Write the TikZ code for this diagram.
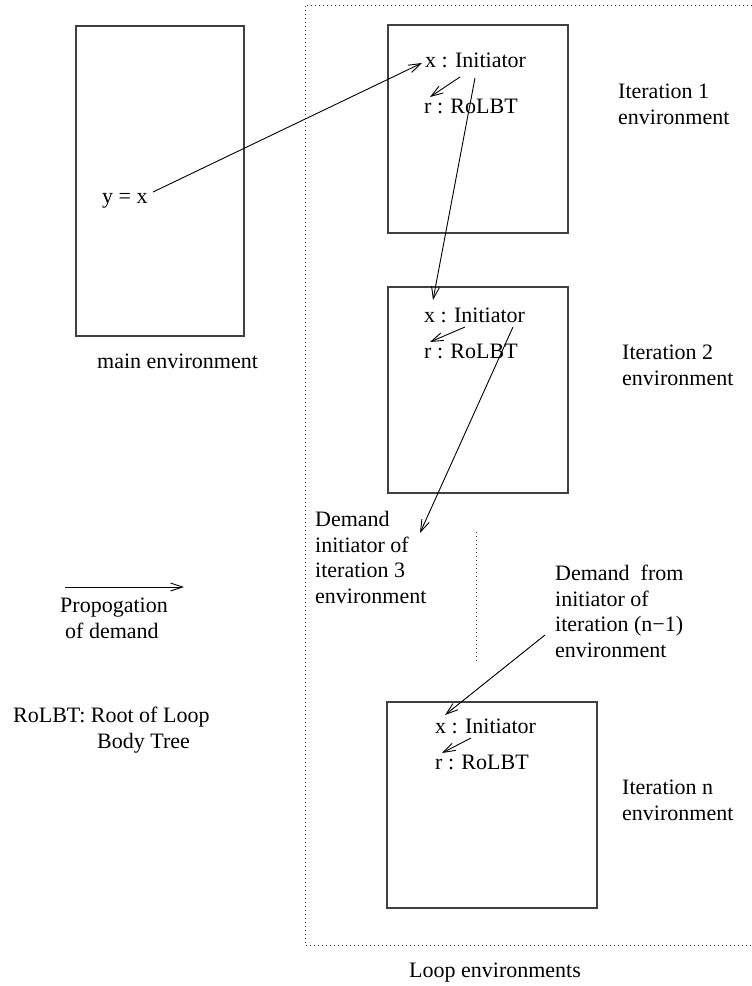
\documentclass[tikz,border=0pt]{standalone}
\usepackage{fontspec}
\setmainfont{Liberation Serif}
\usetikzlibrary{arrows.meta}
\begin{document}
\begin{tikzpicture}[x=1pt,y=-1pt,
  txt/.style={anchor=base west,inner sep=0pt,align=left,
    font=\fontsize{22}{25.5}\selectfont},
  envbox/.style={draw=black!75,line width=1.2pt},
  frame/.style={draw=black!80,line width=1pt,dash pattern=on 1pt off 3pt},
  demand/.style={draw=black,line width=0.9pt,
    -{Straight Barb[length=12pt,width=8pt,line width=0.9pt]}}]
\useasboundingbox (0,0) rectangle (752,986);

% loop region and the gap between iterations
\draw[frame] (752,5) -- (305,5) -- (305,945) -- (752,945);
\draw[frame] (476,532) -- (476,664);

% environments
\draw[envbox] (76,26) rectangle (244,336);
\draw[envbox] (388,25) rectangle (568,233);
\draw[envbox] (388,287) rectangle (568,493);
\draw[envbox] (387,702) rectangle (597,908);

% main environment (multi-line nodes are placed by their last baseline)
\node[txt] (yx) at (102,203) {y = x};
\node[txt] (mainlbl) at (97,368) {main environment};

% iteration 1
\node[txt] (init1) at (425,67) {x : Initiator};
\node[txt] (root1) at (424,113) {r : RoLBT};
\node[txt] (it1) at (618,124) {Iteration 1\\environment};

% iteration 2
\node[txt] (init2) at (424,322) {x : Initiator};
\node[txt] (root2) at (424,358) {r : RoLBT};
\node[txt] (it2) at (622,385) {Iteration 2\\environment};

% iteration n
\node[txt] (initn) at (435,733) {x : Initiator};
\node[txt] (rootn) at (435,769) {r : RoLBT};
\node[txt] (itn) at (622,820) {Iteration n\\environment};

% notes
\node[txt] (dem3) at (315,603) {Demand\\initiator of\\iteration 3\\environment};
\node[txt] (demn) at (555,657) {Demand\enspace from\\initiator of\\iteration (n\textminus1)\\environment};
\node[txt] (prop) at (60,638) {Propogation\\\hspace*{5pt}of demand};
\node[txt] (rolbt) at (13,748) {RoLBT: Root of Loop\\\hspace*{84pt}Body Tree};
\node[txt] (looplbl) at (409,977) {Loop environments};

% connector end points
\coordinate (yxE) at (153,192);
\coordinate (i1W) at (422,63);
\coordinate (i1a) at (460,77);
\coordinate (r1a) at (430,97);
\coordinate (i1b) at (475,78);
\coordinate (i2t) at (433,300);
\coordinate (i2a) at (465,327);
\coordinate (r2a) at (430,342);
\coordinate (i2b) at (513,327);
\coordinate (d3) at (420,533);
\coordinate (dn) at (545,635);
\coordinate (int) at (445,715);
\coordinate (ina) at (471,738);
\coordinate (rna) at (442,753);
\coordinate (legA) at (65,587);
\coordinate (legB) at (184,587);

% propagation of demand
\draw[demand] (yxE) -- (i1W);
\draw[demand] (i1a) -- (r1a);
\draw[demand] (i1b) -- (i2t);
\draw[demand] (i2a) -- (r2a);
\draw[demand] (i2b) -- (d3);
\draw[demand] (dn) -- (int);
\draw[demand] (ina) -- (rna);
\draw[demand] (legA) -- (legB);
\end{tikzpicture}
\end{document}
